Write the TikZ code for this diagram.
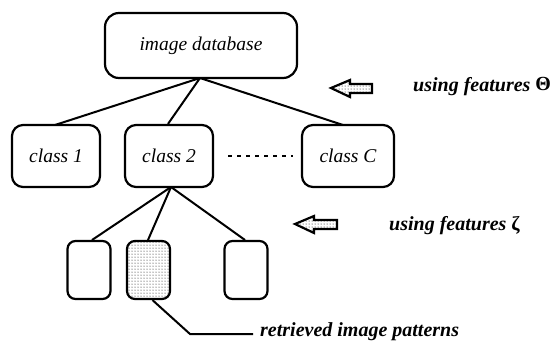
\documentclass[tikz,border=0pt]{standalone}
\usepackage{fontspec}
\setmainfont{Liberation Serif}
\usetikzlibrary{patterns}
\begin{document}
\begin{tikzpicture}[x=1pt,y=-1pt,
  box/.style={draw,line width=2.2pt,rounded corners=11pt,inner sep=0pt,font=\fontsize{19.5}{21}\selectfont\itshape},
  leaf/.style={draw,line width=2.2pt,rounded corners=8pt,minimum width=43pt,minimum height=58pt,inner sep=0pt},
  edge/.style={line width=2pt},
  lbl/.style={font=\fontsize{20}{22}\selectfont\bfseries\itshape,inner sep=0pt,anchor=west},
  blockarrow/.style={line width=2.2pt,pattern=dots,line join=miter}]
\useasboundingbox (0,0) rectangle (559,341);
\node[box,minimum width=192pt,minimum height=65pt,rounded corners=14pt] (db) at (201,45.5) {image database};
\node[box,minimum width=88pt,minimum height=62pt] (c1) at (56,156) {class 1};
\node[box,minimum width=88pt,minimum height=62pt] (c2) at (169,156) {class 2};
\node[box,minimum width=92pt,minimum height=62pt] (cc) at (348,156) {class C};
\node[leaf] (l1) at (89,270) {};
\node[leaf,pattern=dots] (l2) at (148.5,270) {};
\node[leaf] (l3) at (246,270) {};
\coordinate (dbb) at (200,78);
\coordinate (c2b) at (171,187);
\draw[edge] (dbb) -- (55,125);
\draw[edge] (dbb) -- (c2.north -| 168,0);
\draw[edge] (dbb) -- (343,125);
\draw[edge] (c2b) -- (92,240);
\draw[edge] (c2b) -- (148,240);
\draw[edge] (c2b) -- (245,240);
\path (c2.east) ++(14,0) coordinate (d1) (cc.west) ++(-8,0) coordinate (d2);
\draw[line width=1.2pt,dash pattern=on 4pt off 5pt] (d1) -- (d2);
\coordinate (k1) at (190,334);
\coordinate (k2) at (253,334);
\draw[edge] (l2.south) ++(4,0) -- (k1) -- (k2);
\node[lbl] (rt) at (260,332) {retrieved image patterns};
\node[lbl] (u1) at (413,87) {using features \raisebox{1pt}{\upshape Θ}};
\node[lbl] (u2) at (389,226) {using features {\upshape ζ}};
\draw[blockarrow] (331,88) -- (350,80) -- (350,84) -- (372,84) -- (372,93) -- (350,93) -- (350,97) -- cycle;
\draw[blockarrow] (295,224) -- (314,216) -- (314,220) -- (337,220) -- (337,229) -- (314,229) -- (314,233) -- cycle;
\end{tikzpicture}
\end{document}
